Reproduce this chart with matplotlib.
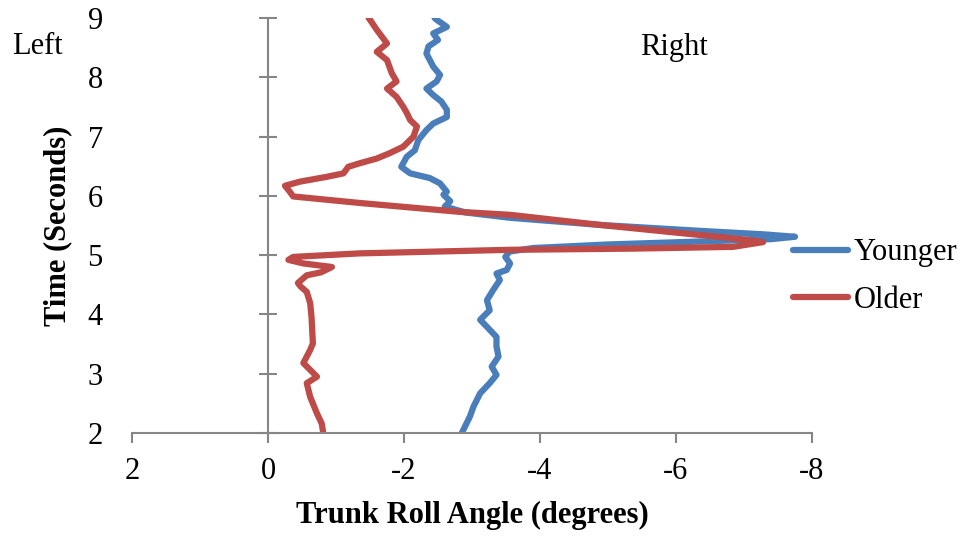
import matplotlib
matplotlib.use("Agg")
import matplotlib.pyplot as plt

plt.rcParams['font.family'] = ['Liberation Serif', 'DejaVu Serif']
plt.rcParams['axes.unicode_minus'] = False

# time (s) and trunk roll angle (deg)
young_time = [2.00, 2.28, 2.44, 2.67, 2.84, 2.98, 3.12, 3.29, 3.46, 3.62,
              3.79, 3.91, 4.07, 4.24, 4.41, 4.58, 4.69, 4.75, 4.86, 4.97,
              5.06, 5.12, 5.18, 5.23, 5.27, 5.31, 5.35, 5.41, 5.51, 5.63,
              5.72, 5.82, 5.91, 6.02, 6.07, 6.21, 6.30, 6.38, 6.49, 6.66,
              6.77, 6.94, 7.11, 7.22, 7.33, 7.45, 7.59, 7.70, 7.81, 7.93,
              8.04, 8.18, 8.29, 8.40, 8.52, 8.63, 8.74, 8.85, 8.97, 9.00]
young_angle = [-2.85, -2.97, -3.02, -3.12, -3.26, -3.36, -3.29, -3.39, -3.36, -3.36,
               -3.22, -3.12, -3.26, -3.22, -3.31, -3.41, -3.36, -3.51, -3.56, -3.49,
               -3.55, -3.90, -5.00, -6.35, -7.40, -7.75, -7.30, -6.35, -4.88, -3.56,
               -2.90, -2.60, -2.68, -2.58, -2.63, -2.53, -2.38, -2.09, -1.96, -2.04,
               -2.16, -2.21, -2.33, -2.43, -2.63, -2.63, -2.55, -2.43, -2.33, -2.48,
               -2.53, -2.43, -2.38, -2.33, -2.36, -2.50, -2.43, -2.63, -2.48, -2.45]

old_time = [2.02, 2.16, 2.33, 2.61, 2.84, 2.95, 3.18, 3.40, 3.51, 3.96,
            4.19, 4.38, 4.47, 4.53, 4.66, 4.71, 4.80, 4.86, 4.92, 4.97,
            5.03, 5.09, 5.11, 5.14, 5.22, 5.26, 5.34, 5.51, 5.68, 5.73,
            5.88, 5.99, 6.07, 6.17, 6.24, 6.32, 6.38, 6.49, 6.55, 6.63,
            6.72, 6.83, 7.00, 7.17, 7.28, 7.40, 7.50, 7.67, 7.81, 7.93,
            8.07, 8.29, 8.43, 8.57, 8.80, 8.97, 9.00]
old_angle = [-0.81, -0.79, -0.72, -0.62, -0.57, -0.72, -0.52, -0.62, -0.66, -0.64,
             -0.62, -0.57, -0.48, -0.44, -0.57, -0.78, -0.94, -0.52, -0.30, -0.37,
             -1.35, -3.56, -5.37, -6.84, -7.28, -7.04, -6.35, -4.88, -3.56, -2.82,
             -1.35, -0.37, -0.32, -0.25, -0.47, -0.86, -1.11, -1.18, -1.35, -1.60,
             -1.79, -1.99, -2.14, -2.19, -2.09, -2.04, -1.99, -1.89, -1.75, -1.89,
             -1.82, -1.75, -1.60, -1.75, -1.60, -1.50, -1.48]

x_ticks = [2, 0, -2, -4, -6, -8]
y_ticks = [2, 3, 4, 5, 6, 7, 8, 9]

blue = '#4A7EBB'
red = '#BE4B48'
gray = '#868686'

fig = plt.figure(figsize=(9.69, 5.36), dpi=100)
ax = fig.add_axes([132 / 969, 1 - 433 / 536, 680 / 969, 415 / 536])

ax.plot(young_angle, young_time, color=blue, lw=4.5, label='Younger',
        solid_capstyle='round', solid_joinstyle='round')
ax.plot(old_angle, old_time, color=red, lw=4.5, label='Older',
        solid_capstyle='round', solid_joinstyle='round')

ax.set_xlim(2, -8)
ax.set_ylim(2, 9)
ax.set_xticks(x_ticks)
ax.set_yticks(y_ticks)

for s in ['top', 'right', 'left']:
    ax.spines[s].set_visible(False)
ax.spines['bottom'].set_color(gray)
ax.spines['bottom'].set_linewidth(1.5)
ax.tick_params(axis='x', colors=gray, direction='out', length=7, width=1.5,
               pad=10, labelsize=22, labelcolor='black')
ax.tick_params(axis='y', length=0, pad=21, labelsize=22)

# vertical axis line drawn through zero
sec = ax.secondary_yaxis(0.2)
sec.set_yticks(y_ticks)
sec.spines['left'].set_color(gray)
sec.spines['left'].set_linewidth(1.5)
sec.tick_params(axis='y', colors=gray, direction='inout', length=13, width=1.5,
                labelleft=False)

ax.set_xlabel('Trunk Roll Angle (degrees)', fontsize=22, fontweight='bold')
ax.set_ylabel('Time (Seconds)', fontsize=22, fontweight='bold')
ax.xaxis.set_label_coords(0.5, -0.163)
ax.yaxis.set_label_coords(-0.088, 0.5)

fig.text(12 / 969, 1 - 47 / 536, 'Left', fontsize=22, va='center', ha='left')
fig.text(640 / 969, 1 - 47 / 536, 'Right', fontsize=22, va='center', ha='left')

ax.legend(loc='center left', bbox_to_anchor=(793 / 969, 1 - 276.5 / 536),
          bbox_transform=fig.transFigure, frameon=False, fontsize=22,
          borderpad=0, borderaxespad=0, handlelength=1.8, handletextpad=0.2,
          labelspacing=0.6)

fig.savefig('out.png', dpi=100)
